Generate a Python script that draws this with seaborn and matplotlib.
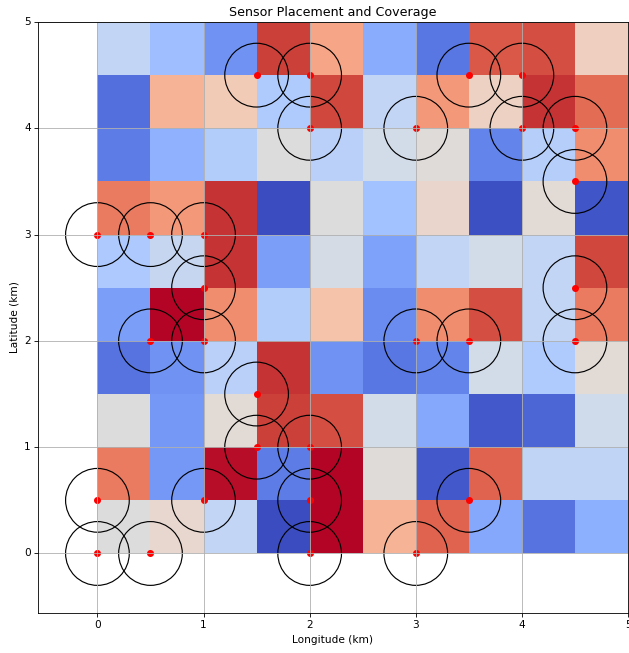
import numpy as np
import matplotlib
matplotlib.use("Agg")
import matplotlib.pyplot as plt
import seaborn as sns
from matplotlib.patches import Circle
from matplotlib.transforms import Affine2D

# Coverage intensity for each 0.5 km cell, rows listed from south (lat 0) to north
coverage_r0 = [0.50, 0.54, 0.41, 0.00, 1.00, 0.68, 0.87, 0.23, 0.09, 0.25]
coverage_r1 = [0.82, 0.18, 0.99, 0.11, 1.00, 0.51, 0.03, 0.87, 0.40, 0.40]
coverage_r2 = [0.50, 0.18, 0.52, 0.93, 0.91, 0.46, 0.23, 0.03, 0.06, 0.45]
coverage_r3 = [0.09, 0.17, 0.38, 0.95, 0.17, 0.10, 0.13, 0.46, 0.35, 0.52]
coverage_r4 = [0.20, 1.00, 0.78, 0.36, 0.63, 0.15, 0.78, 0.91, 0.41, 0.82]
coverage_r5 = [0.34, 0.42, 0.95, 0.20, 0.47, 0.21, 0.41, 0.46, 0.41, 0.92]
coverage_r6 = [0.82, 0.75, 0.95, 0.00, 0.50, 0.31, 0.55, 0.01, 0.52, 0.02]
coverage_r7 = [0.11, 0.26, 0.36, 0.50, 0.38, 0.46, 0.51, 0.13, 0.37, 0.78]
coverage_r8 = [0.08, 0.68, 0.60, 0.35, 0.92, 0.41, 0.75, 0.57, 0.95, 0.85]
coverage_r9 = [0.41, 0.30, 0.17, 0.93, 0.72, 0.24, 0.10, 0.89, 0.91, 0.58]

# Sensor positions (km)
sensor_lon = [1.5, 2.0, 2.0, 3.5, 4.0, 3.0, 4.0, 4.5, 4.5,
              0.0, 0.5, 1.0, 1.0, 4.5,
              0.5, 1.0, 3.0, 3.5, 4.5,
              1.5, 1.5, 2.0,
              0.0, 1.0, 2.0, 3.5,
              0.0, 0.5, 2.0, 3.0]
sensor_lat = [4.5, 4.5, 4.0, 4.5, 4.5, 4.0, 4.0, 4.0, 3.5,
              3.0, 3.0, 3.0, 2.5, 2.5,
              2.0, 2.0, 2.0, 2.0, 2.0,
              1.5, 1.0, 1.0,
              0.5, 0.5, 0.5, 0.5,
              0.0, 0.0, 0.0, 0.0]

coverage_radius = 0.3
cell_size = 0.5
tick_values = [0, 1, 2, 3, 4, 5]
tick_labels = ["0", "1", "2", "3", "4", "5"]

grid = np.array([coverage_r0, coverage_r1, coverage_r2, coverage_r3, coverage_r4,
                 coverage_r5, coverage_r6, coverage_r7, coverage_r8, coverage_r9])

plt.rcdefaults()
DPI = 76
fig = plt.figure(figsize=(629 / DPI, 653 / DPI), dpi=DPI)
ax = fig.add_axes([38 / 629, 40 / 653, 590 / 629, 591 / 653])

sns.heatmap(grid, cmap="coolwarm", vmin=0, vmax=1, cbar=False, ax=ax)
# place the heatmap cells in km: each cell spans 0.5 km
mesh = ax.collections[0]
mesh.set_transform(Affine2D().scale(cell_size) + ax.transData)

sns.scatterplot(x=sensor_lon, y=sensor_lat, color="red", s=44,
                edgecolor="red", linewidth=0, zorder=1, ax=ax)

for lon, lat in zip(sensor_lon, sensor_lat):
    ax.add_patch(Circle((lon, lat), coverage_radius, fill=False,
                        edgecolor="black", linewidth=1.1, zorder=1))

for spine in ax.spines.values():
    spine.set_visible(True)
    spine.set_color("black")
    spine.set_linewidth(0.8)

ax.set_xlim(-0.56, 5.0)
ax.set_ylim(-0.56, 5.0)
ax.set_xticks(tick_values)
ax.set_xticklabels(tick_labels, rotation=0)
ax.set_yticks(tick_values)
ax.set_yticklabels(tick_labels, rotation=0, va="center")
ax.tick_params(length=3.5, width=0.8, labelsize=10)
ax.grid(True, color="#b0b0b0", linewidth=0.8)

ax.set_title("Sensor Placement and Coverage", fontsize=12)
ax.set_xlabel("Longitude (km)", fontsize=10)
ax.set_ylabel("Latitude (km)", fontsize=10)

fig.savefig("out.png", dpi=DPI)
